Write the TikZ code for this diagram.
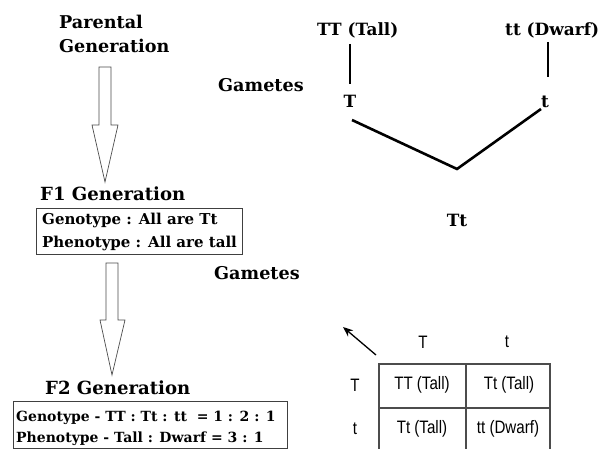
\documentclass[tikz,border=0pt]{standalone}
\usepackage{fontspec}
\setmainfont{DejaVu Serif}
\newfontfamily\tabfont{Liberation Sans}
\usetikzlibrary{arrows.meta}

% condensed sans text for the Punnett square
\newcommand{\narrowtxt}[1]{\scalebox{0.84}[1]{#1}}

\begin{document}
\begin{tikzpicture}[x=1pt,y=-1pt,
  hd/.style={font=\fontsize{17.6}{24}\selectfont\bfseries, inner sep=0pt, align=left},
  gen/.style={font=\fontsize{18.1}{24}\selectfont\bfseries, inner sep=0pt},
  lbl/.style={font=\fontsize{16.9}{20}\selectfont\bfseries, inner sep=0pt},
  bxa/.style={font=\fontsize{15}{20}\selectfont\bfseries, inner sep=0pt},
  bxb/.style={font=\fontsize{14}{18}\selectfont\bfseries, inner sep=0pt},
  frame/.style={draw=black!75, line width=1pt, inner sep=0pt},
  blockarrow/.style={draw=black!70, fill=white, line width=0.7pt, line join=miter},
  cross/.style={line width=2.6pt},
  cell/.style={font=\fontsize{18}{20}\selectfont\tabfont, inner sep=0pt},
  gridline/.style={draw=black!70, line width=1.3pt}
]
\useasboundingbox[fill=white] (0,0) rectangle (603,449);

% ---- left column: generations ----
\node[hd, anchor=base west] (parental) at (59,53) {Parental\\Generation};
\node[gen, anchor=base west] (f1) at (40,201) {F1 Generation};
\node[gen, anchor=base west] (f2) at (45,395) {F2 Generation};

\node[frame, minimum width=206pt, minimum height=46pt, anchor=north west] (f1box) at (36,208) {};
\node[bxa, anchor=base west] (f1geno) at (42,225) {Genotype : All are Tt};
\node[bxa, anchor=base west] (f1pheno) at (42,248) {Phenotype : All are tall};

\node[frame, minimum width=274pt, minimum height=47pt, anchor=north west] (f2box) at (13,401) {};
\node[bxb, anchor=base west] (f2geno) at (16,421) {Genotype - TT : Tt : tt ~= 1 : 2 : 1};
\node[bxb, anchor=base west] (f2pheno) at (16,442) {Phenotype - Tall : Dwarf = 3 : 1};

% hollow block arrows between generations
\draw[blockarrow] (99,67) -- (111,67) -- (111,125) -- (118,125) -- (105,182)
  -- (92,125) -- (99,125) -- cycle;
\draw[blockarrow] (106,263) -- (118,263) -- (118,320) -- (125,320) -- (112,375)
  -- (100,320) -- (106,320) -- cycle;

% ---- gametes labels ----
\node[hd, anchor=base west] (gam1) at (218,92) {Gametes};
\node[hd, anchor=base west] (gam2) at (214,280) {Gametes};

% ---- parental cross ----
\node[lbl, anchor=base west] (ptall) at (317,36) {TT (Tall)};
\node[lbl, anchor=base west] (pdwarf) at (505,36) {tt (Dwarf)};
\node[lbl, anchor=base] (gT) at (350,108) {T};
\node[lbl, anchor=base] (gt) at (545,108) {t};
\node[lbl, anchor=base] (hyb) at (457,227) {Tt};

\coordinate (tallfoot) at (350,44);
\coordinate (gTtop) at (350,84);
\coordinate (dwarffoot) at (548,42);
\coordinate (gttop) at (548,77);
\coordinate (gTfoot) at (352,120);
\coordinate (vtip) at (457,169);
\coordinate (gtfoot) at (541,109);

\draw[cross] (tallfoot) -- (gTtop);
\draw[cross] (dwarffoot) -- (gttop);
\draw[cross, line join=miter] (gTfoot) -- (vtip) -- (gtfoot);

% ---- Punnett square ----
\coordinate (ptail) at (376,355);
\coordinate (phead) at (343,327);
\draw[line width=1.3pt, -{Stealth[length=10pt,width=8pt]}] (ptail) -- (phead);

\node[cell] (colT) at (423,342) {\narrowtxt{T}};
\node[cell] (colt) at (507,342) {\narrowtxt{t}};
\node[cell] (rowT) at (355,385) {\narrowtxt{T}};
\node[cell] (rowt) at (355,429) {\narrowtxt{t}};

\draw[gridline] (379,449) -- (379,364) -- (550,364) -- (550,449);
\draw[gridline] (466,364) -- (466,449);
\draw[gridline] (379,408) -- (550,408);

\node[cell] (c11) at (422,385) {\narrowtxt{TT (Tall)}};
\node[cell] (c12) at (509,385) {\narrowtxt{Tt (Tall)}};
\node[cell] (c21) at (422,429) {\narrowtxt{Tt (Tall)}};
\node[cell] (c22) at (508,429) {\narrowtxt{tt (Dwarf)}};
\end{tikzpicture}
\end{document}
